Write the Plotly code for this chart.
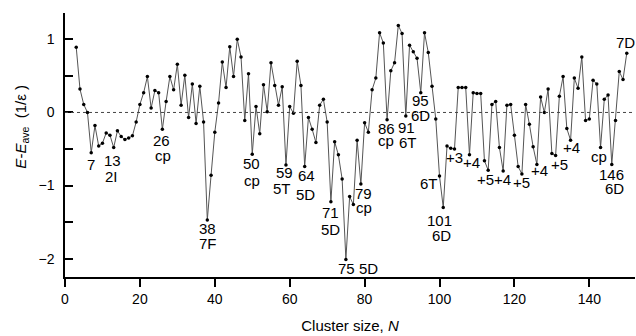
import plotly.graph_objects as go

# Cluster sizes N = 3..150
sizes = list(range(3, 151))

# E - E_ave values (1/epsilon)
energy = [
    0.89, 0.32, 0.11, 0.00, -0.55, -0.18, -0.46, -0.42, -0.28, -0.31,   # 3-12
    -0.48, -0.25, -0.33, -0.37, -0.35, -0.32, -0.13, 0.11, 0.27, 0.49,  # 13-22
    0.06, 0.30, 0.27, -0.23, 0.15, 0.49, 0.31, 0.66, 0.10, 0.51,        # 23-32
    -0.07, 0.39, -0.15, 0.36, -0.13, -1.47, -0.86, -0.27, 0.13, 0.69,   # 33-42
    0.34, 0.90, 0.49, 1.00, 0.76, -0.11, 0.53, -0.57, 0.08, -0.29,      # 43-52
    0.38, 0.01, 0.68, 0.37, 0.10, 0.35, -0.72, 0.08, -0.01, 0.70,       # 53-62
    0.37, -0.74, -0.07, -0.23, -0.41, 0.10, 0.18, -0.13, -1.22, -0.40,  # 63-72
    -0.58, -0.91, -2.01, -1.15, -1.26, -0.38, -0.98, -0.14, -0.27, 0.31, # 73-82
    0.47, 1.09, 0.95, -0.10, 0.57, 0.68, 1.19, 1.08, -0.05, 0.92,       # 83-92
    0.83, 0.74, 0.27, 1.09, 0.82, 0.36, -0.09, -0.87, -1.30, -0.46,     # 93-102
    -0.49, -0.50, 0.34, 0.34, 0.34, -0.58, 0.27, 0.26, 0.26, -0.66,     # 103-112
    -0.79, 0.11, 0.15, -0.48, -0.80, 0.10, 0.11, -0.31, -0.74, -0.84,   # 113-122
    0.11, -0.16, -0.47, -0.71, 0.21, 0.00, 0.32, -0.56, -0.59, 0.22,    # 123-132
    0.49, -0.22, -0.38, 0.47, 0.33, 0.76, -0.11, -0.09, 0.44, 0.39,     # 133-142
    -0.48, 0.18, 0.24, -0.71, -0.11, 0.56, 0.45, 0.81,                  # 143-150
]

# Point labels: text and its anchor in data coordinates
label_texts = ["7", "13", "2I", "26", "cp", "38", "7F", "50", "cp", "59", "5T",
               "64", "5D", "71", "5D", "75", "5D", "79", "cp", "86", "cp",
               "91", "6T", "95", "6D", "6T", "101", "6D", "+3", "+4", "+5",
               "+4", "+5", "+4", "+5", "+4", "cp", "146", "6D", "7D"]
label_x = [6.94, 12.74, 12.47, 25.82, 26.25, 38.18, 38.18, 49.85, 49.85, 58.56, 57.86,
           64.54, 64.27, 70.95, 70.95, 75.22, 80.99, 79.65, 79.84, 85.9, 85.71,
           91.24, 91.51, 94.98, 94.98, 97.28, 100.13, 100.59, 103.95, 108.41, 112.15,
           116.88, 121.95, 126.83, 131.91, 135.3, 142.67, 145.98, 146.6, 149.6]
label_y = [-0.708, -0.663, -0.882, -0.379, -0.585, -1.589, -1.795, -0.699, -0.927, -0.827, -1.041,
           -0.859, -1.123, -1.362, -1.603, -2.137, -2.137, -1.110, -1.293, -0.219, -0.379,
           -0.211, -0.416, 0.168, -0.037, -0.973, -1.475, -1.681, -0.622, -0.685, -0.918,
           -0.918, -0.964, -0.80, -0.708, -0.485, -0.599, -0.845, -1.041, 0.959]

FONT = "Liberation Sans, Arial, sans-serif"

fig = go.Figure()
fig.add_trace(go.Scatter(
    x=sizes, y=energy, mode="lines+markers",
    line=dict(color="#555555", width=1),
    marker=dict(color="black", size=3.5),
    hoverinfo="x+y", showlegend=False,
))

for t, lx, ly in zip(label_texts, label_x, label_y):
    fig.add_annotation(x=lx, y=ly, text=t, showarrow=False,
                       xanchor="center", yanchor="middle",
                       font=dict(family=FONT, size=15, color="black"))

# dotted zero line
fig.add_shape(type="line", xref="paper", x0=0.0, x1=1, yref="y", y0=0, y1=0,
              line=dict(color="#444444", width=1, dash="dot"))

# y-axis title as rotated annotation
fig.add_annotation(xref="paper", yref="paper", x=-0.077, y=0.57,
                   text="<i>E</i>-<i>E</i><sub>ave</sub>  (1/ε )", textangle=-90,
                   showarrow=False, xanchor="center", yanchor="middle",
                   font=dict(family=FONT, size=15, color="black"))

fig.update_layout(
    width=636, height=336,
    margin=dict(l=65, r=1, t=13, b=59),
    paper_bgcolor="white", plot_bgcolor="white",
    font=dict(family=FONT, size=14, color="black"),
    xaxis=dict(range=[0, 152.2], tickvals=[0, 20, 40, 60, 80, 100, 120, 140],
               ticks="outside", ticklen=8, tickwidth=1.5, tickcolor="black",
               showline=True, linecolor="black", linewidth=1.5,
               showgrid=False, zeroline=False, automargin=False,
               title=dict(text="Cluster size, <i>N</i>", standoff=15,
                          font=dict(family=FONT, size=15))),
    yaxis=dict(range=[-2.25, 1.36], tickvals=[-2, -1, 0, 1],
               ticks="inside", ticklen=8, tickwidth=1.5, tickcolor="black",
               minor=dict(tickvals=[-1.5, -0.5, 0.5], ticks="inside", ticklen=8,
                          tickwidth=1.5, tickcolor="black"),
               showline=True, linecolor="black", linewidth=1.5,
               showgrid=False, zeroline=False, automargin=False,
               ticklabelstandoff=6),
)

fig.write_html("out.html",
               config={"displayModeBar": False},
               post_script="document.body.style.margin='0';document.body.style.overflow='hidden';")
